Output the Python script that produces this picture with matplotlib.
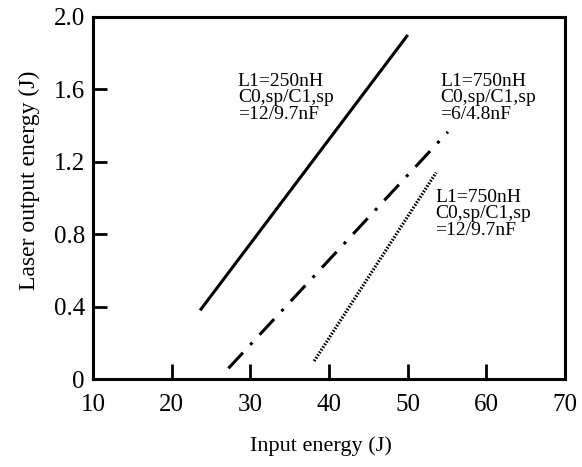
import matplotlib.pyplot as plt

plt.rcParams['font.family'] = ['Liberation Serif', 'DejaVu Serif']

# 数据
x_250 = [23.6, 50.0]
y_250 = [0.38, 1.90]
x_750_6 = [27.2, 55.1]
y_750_6 = [0.06, 1.365]
x_750_12 = [38.1, 53.6]
y_750_12 = [0.10, 1.14]

x_ticks = [10, 20, 30, 40, 50, 60, 70]
y_ticks = [0, 0.4, 0.8, 1.2, 1.6, 2.0]
y_tick_labels = ['0', '0.4', '0.8', '1.2', '1.6', '2.0']

fig = plt.figure(figsize=(5.82, 4.67), dpi=100)
ax = fig.add_axes([0.160, 0.188, 0.811, 0.776])

ax.plot(x_250, y_250, c='black', lw=2.2, solid_capstyle='butt')
ax.plot(x_750_6, y_750_6, c='black', lw=2.2, dashes=(7, 3.5, 1, 3.5), solid_capstyle='butt')
ax.plot(x_750_12, y_750_12, c='black', lw=2.3, dashes=(0.5, 0.5))

ax.text(28.4, 1.69, 'L1=250nH\nC0,sp/C1,sp\n=12/9.7nF', fontsize=14, va='top', linespacing=0.95)
ax.text(54.1, 1.69, 'L1=750nH\nC0,sp/C1,sp\n=6/4.8nF', fontsize=14, va='top', linespacing=0.95)
ax.text(53.5, 1.05, 'L1=750nH\nC0,sp/C1,sp\n=12/9.7nF', fontsize=14, va='top', linespacing=0.95)

ax.set_xlim(10, 70)
ax.set_ylim(0, 2.0)
ax.set_xticks(x_ticks)
ax.set_yticks(y_ticks)
ax.set_yticklabels(y_tick_labels)
ax.tick_params(axis='x', direction='in', length=11, width=2, pad=11, labelsize=18)
ax.tick_params(axis='y', direction='in', length=10, width=2, pad=6, labelsize=18)
# 端点不画刻度线
for t in (ax.xaxis.get_major_ticks()[0], ax.xaxis.get_major_ticks()[-1],
          ax.yaxis.get_major_ticks()[0], ax.yaxis.get_major_ticks()[-1]):
    t.tick1line.set_visible(False)
for s in ax.spines.values():
    s.set_linewidth(2.2)

ax.set_xlabel('Input energy (J)', fontsize=16, labelpad=14)
ax.set_ylabel('Laser output energy (J)', fontsize=17, labelpad=10)
ax.xaxis.label.set_x(0.483)
ax.yaxis.label.set_y(0.55)

fig.savefig('out.png', dpi=100)
